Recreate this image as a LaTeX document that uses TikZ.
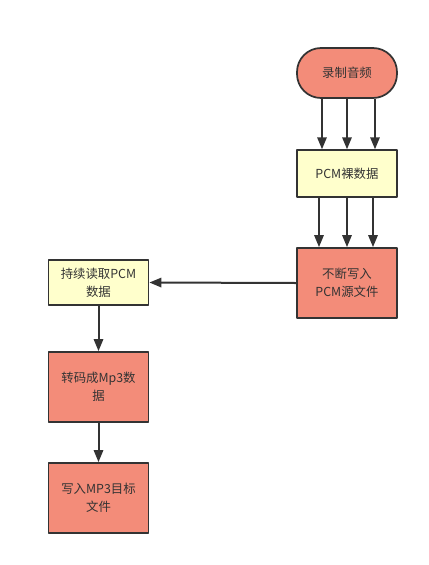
\documentclass[tikz,border=0pt]{standalone}
\usepackage{fontspec}
\setmainfont{Noto Sans CJK SC}
\usetikzlibrary{arrows.meta}
\definecolor{salmon}{HTML}{F38C79}
\definecolor{paleyellow}{HTML}{FFFFCC}
\definecolor{inkgray}{HTML}{333333}
\tikzset{
  box/.style={draw=inkgray,line width=1.3pt,text=inkgray,minimum width=75pt,align=center,font=\fontsize{9.3}{13.5}\selectfont,inner sep=2pt},
  redbox/.style={box,fill=salmon},
  yellowbox/.style={box,fill=paleyellow},
  flow/.style={draw=inkgray,line width=1.5pt,-{Triangle[length=9pt,width=7pt]}}
}
\begin{document}
\begin{tikzpicture}[x=0.75pt,y=-0.75pt,line cap=butt,line join=round]
\useasboundingbox (0,0) rectangle (429,565);
\node[redbox,rounded corners=18pt,minimum height=37.5pt] (rec) at (347,73) {录制音频};
\node[yellowbox,minimum height=35pt] (pcm) at (347,173.5) {PCM裸数据};
\node[redbox,minimum height=52.5pt] (write) at (347,283) {不断写入\\PCM源文件};
\node[yellowbox,minimum height=34pt] (read) at (98.5,282.5) {持续读取PCM\\数据};
\node[redbox,minimum height=52.5pt] (enc) at (98.5,387) {转码成Mp3数\\据};
\node[redbox,minimum height=52.5pt] (mp3) at (98.5,498) {写入MP3目标\\文件};
%\draw (rec) -- (pcm);
\draw[flow] ([xshift=-18.75pt]rec.south) -- ([xshift=-18.75pt]pcm.north);
\draw[flow] (rec.south) -- (pcm.north);
\draw[flow] ([xshift=21pt]rec.south) -- ([xshift=21pt]pcm.north);
\draw[flow] ([xshift=-21pt]pcm.south) -- ([xshift=-21pt]write.north);
\draw[flow] (pcm.south) -- (write.north);
\draw[flow] ([xshift=19.5pt]pcm.south) -- ([xshift=19.5pt]write.north);
\draw[flow] (write.west) -- (read.east);
\draw[flow] (read.south) -- (enc.north);
\draw[flow] (enc.south) -- (mp3.north);
\end{tikzpicture}
\end{document}
